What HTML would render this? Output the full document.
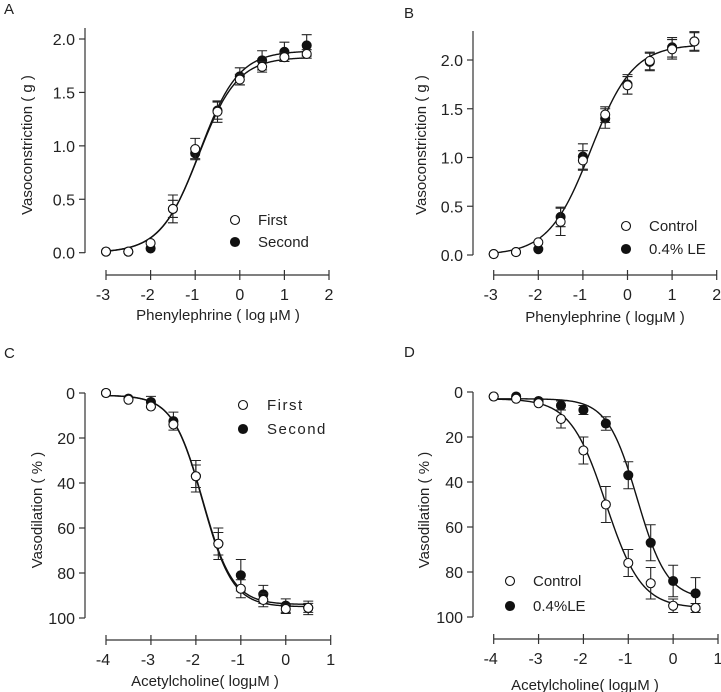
<!DOCTYPE html>
<html><head><meta charset="utf-8"><style>
body{margin:0;background:#fff}
svg{display:block;font-family:"Liberation Sans",Arial,sans-serif}
</style></head><body>
<svg id="fig" width="721" height="692" viewBox="0 0 721 692"></svg>
<script>
// ---- data ----
const xA = [-3,-2.5,-2,-1.5,-1,-0.5,0,0.5,1,1.5];
const aFirst = [0.01,0.01,0.09,0.41,0.97,1.32,1.62,1.74,1.83,1.86];
const aFirstErr = [0,0,0,0.13,0.1,0.1,0.05,0.05,0.04,0.04];
const aSecond = [0.01,0.01,0.04,0.41,0.93,1.33,1.65,1.80,1.88,1.94];
const aSecondErr = [0,0,0,0.08,0.05,0.08,0.08,0.09,0.09,0.1];
const bControl = [0.01,0.03,0.13,0.34,0.97,1.44,1.74,1.99,2.11,2.19];
const bControlErr = [0,0,0,0.14,0.1,0.08,0.09,0.09,0.1,0.1];
const bLE = [0.01,0.03,0.06,0.39,1.01,1.40,1.75,1.98,2.13,2.19];
const bLEErr = [0,0,0,0.1,0.13,0.1,0.1,0.09,0.1,0.09];
const xC = [-4,-3.5,-3,-2.5,-2,-1.5,-1,-0.5,0,0.5];
const cFirst = [0,3,6,14,37,67,87,92,96,95.5];
const cFirstErr = [0,0,0,0,5,5,4,3,2,2];
const cSecond = [0,2.5,4,12.5,37,67,81,89.5,94.5,95.5];
const cSecondErr = [0,0,2.5,4,7,7,7,4,3,3];
const dControl = [2,3,5,12,26,50,76,85,95,96];
const dControlErr = [0,0,0,4,6,8,6,7,3,2];
const dLE = [2,2,4,6,8,14,37,67,84,89.5];
const dLEErr = [0,0,0,2,2,3,6,8,7,7];
const yTicksA = [0,0.5,1,1.5,2];
const yTicksB = [0,0.5,1,1.5,2];
const yTicksCD = [0,20,40,60,80,100];
const xTicksAB = [-3,-2,-1,0,1,2];
const xTicksCD = [-4,-3,-2,-1,0,1];
// curve params [bottom, top, logEC50, hill]
const fitAFirst = [0,1.83,-0.92,1.0];
const fitASecond = [0,1.89,-0.9,1.0];
const fitB = [0,2.16,-0.82,0.92];
const fitCFirst = [1,95,-1.85,1.3];
const fitCSecond = [1,94,-1.85,1.3];
const fitDControl = [3,96,-1.5,1.1];
const fitDLE = [3,92,-0.8,1.3];

const svg = document.getElementById('fig');
const NS = 'http://www.w3.org/2000/svg';
function mk(tag, at, parent){const e=document.createElementNS(NS,tag);for(const k in at)e.setAttribute(k,at[k]);(parent||svg).appendChild(e);return e;}
function hill(p,x){return p[0]+(p[1]-p[0])/(1+Math.pow(10,(p[2]-x)*p[3]));}

function panel(cfg){
  const g = mk('g',{});
  
  
  const sx = v => cfg.x0 + (v - cfg.xmin)*(cfg.x1-cfg.x0)/(cfg.xmax-cfg.xmin);
  const sy = v => cfg.y0 + (v - cfg.ymin)*(cfg.y1-cfg.y0)/(cfg.ymax-cfg.ymin);
  const lt = mk('text',{x:cfg.lx,y:cfg.ly,'font-size':15,fill:'#222'},g); lt.textContent=cfg.letter;
  
  
  const ya = mk('line',{x1:cfg.yax,x2:cfg.yax,y1:cfg.yTop,y2:cfg.yBot,stroke:'#333','stroke-width':1.2},g);
  
  
  cfg.yt.forEach(v=>{
    mk('line',{x1:cfg.yax-6,x2:cfg.yax,y1:sy(v),y2:sy(v),stroke:'#333','stroke-width':1.2},g);
    const t=mk('text',{x:cfg.yax-10,y:sy(v)+6,'font-size':16,'text-anchor':'end',fill:'#222'},g);
    t.textContent=cfg.yfmt(v);
    
    
  });
  const xa = mk('line',{x1:sx(cfg.xt[0]),x2:sx(cfg.xt[cfg.xt.length-1]),y1:cfg.xay,y2:cfg.xay,stroke:'#333','stroke-width':1.2},g);
  
  
  cfg.xt.forEach(v=>{
    mk('line',{x1:sx(v),x2:sx(v),y1:cfg.xay-5,y2:cfg.xay+5,stroke:'#333','stroke-width':1.2},g);
    const t=mk('text',{x:sx(v)-(v<0?3:0),y:cfg.xay+25,'font-size':16,'text-anchor':'middle',fill:'#222'},g);
    t.textContent=String(v);
    
    
  });
  const xl=mk('text',{x:cfg.xlx,y:cfg.xly,'font-size':15,'text-anchor':'middle',fill:'#222'},g);
  xl.textContent=cfg.xlabel;
  
  
  const yl=mk('text',{x:0,y:0,'font-size':15,'text-anchor':'middle',fill:'#222',transform:`translate(${cfg.ylx},${cfg.yly}) rotate(-90)`},g);
  yl.textContent=cfg.ylabel;
  
  
  cfg.fits.forEach(p=>{
    let d='';
    for(let i=0;i<=200;i++){const x=cfg.cx0+(cfg.cx1-cfg.cx0)*i/200;d+=(i?'L':'M')+sx(x).toFixed(2)+','+sy(hill(p,x)).toFixed(2);}
    const c=mk('path',{d:d,fill:'none',stroke:'#111','stroke-width':1.4},g);
    
    
  });
  cfg.series.forEach(s=>{
    s.y.forEach((v,i)=>{
      const e=s.e[i], X=sx(cfg.xs[i]);
      if(e>0){
        const yt=sy(v+ (cfg.inv? -e: e)), yb=sy(v+(cfg.inv? e:-e));
        const eb=mk('path',{d:`M${X},${sy(v)}L${X},${yt}M${X-5},${yt}L${X+5},${yt}M${X},${sy(v)}L${X},${yb}M${X-5},${yb}L${X+5},${yb}`,stroke:'#222','stroke-width':1.1,fill:'none'},g);
        
        
      }
      const m=mk('circle',{cx:X,cy:sy(v),r:4.5,fill:s.open?'#fff':'#111',stroke:'#111','stroke-width':1.1},g);
      
      
    });
  });
  cfg.legend.forEach((l,i)=>{
    const lg=mk('g',{},g);
    
    
    const y=cfg.legY+i*cfg.legDy;
    mk('circle',{cx:cfg.legX,cy:y,r:4.5,fill:l.open?'#fff':'#111',stroke:'#111','stroke-width':1.1},lg);
    const t=mk('text',{x:cfg.legX+cfg.legTx,y:y+5,'font-size':15,fill:'#222','letter-spacing':cfg.ls||0},lg);
    t.textContent=l.t;
  });
}
const f1=v=>v.toFixed(1), f0=v=>String(v);
panel({name:'panel-a',letter:'A',lx:4,ly:14,x0:106,x1:329,xmin:-3,xmax:2,y0:252.7,y1:39,ymin:0,ymax:2,
  yax:85,yTop:28,yBot:253,xay:275,yt:yTicksA,yfmt:f1,xt:xTicksAB,xs:xA,cx0:-3,cx1:1.5,
  xlabel:'Phenylephrine ( log\u00a0\u03bcM )',xlx:218,xly:320,ylabel:'Vasoconstriction ( g )',ylx:32,yly:145,
  fits:[fitAFirst,fitASecond],
  series:[{key:'second',y:aSecond,e:aSecondErr,open:false},{key:'first',y:aFirst,e:aFirstErr,open:true}],
  legend:[{t:'First',open:true},{t:'Second',open:false}],legX:235,legY:220,legDy:22,legTx:23});
panel({name:'panel-b',letter:'B',lx:404,ly:18,x0:493.7,x1:716.7,xmin:-3,xmax:2,y0:255,y1:60,ymin:0,ymax:2,
  yax:473,yTop:31,yBot:255,xay:275,yt:yTicksB,yfmt:f1,xt:xTicksAB,xs:xA,cx0:-3,cx1:1.5,
  xlabel:'Phenylephrine ( log\u03bcM )',xlx:605,xly:322,ylabel:'Vasoconstriction ( g )',ylx:426,yly:145,
  fits:[fitB],
  series:[{key:'le',y:bLE,e:bLEErr,open:false},{key:'control',y:bControl,e:bControlErr,open:true}],
  legend:[{t:'Control',open:true},{t:'0.4% LE',open:false}],legX:626,legY:226,legDy:23,legTx:23});
panel({name:'panel-c',letter:'C',lx:4,ly:358,x0:106,x1:330.7,xmin:-4,xmax:1,y0:393,y1:618,ymin:0,ymax:100,inv:true,
  yax:85,yTop:393,yBot:618,xay:640,yt:yTicksCD,yfmt:f0,xt:xTicksCD,xs:xC,cx0:-4,cx1:0.5,
  xlabel:'Acetylcholine( log\u03bcM )',xlx:205,xly:686,ylabel:'Vasodilation ( % )',ylx:42,yly:510,
  fits:[fitCFirst,fitCSecond],
  series:[{key:'second',y:cSecond,e:cSecondErr,open:false},{key:'first',y:cFirst,e:cFirstErr,open:true}],
  legend:[{t:'First',open:true},{t:'Second',open:false}],legX:243,legY:405,legDy:24,legTx:24,ls:1.5});
panel({name:'panel-d',letter:'D',lx:404,ly:357,x0:493.7,x1:718,xmin:-4,xmax:1,y0:392,y1:617,ymin:0,ymax:100,inv:true,
  yax:473,yTop:392,yBot:617,xay:639,yt:yTicksCD,yfmt:f0,xt:xTicksCD,xs:xC,cx0:-4,cx1:0.5,
  xlabel:'Acetylcholine( log\u03bcM )',xlx:585,xly:690,ylabel:'Vasodilation ( % )',ylx:429,yly:510,
  fits:[fitDControl,fitDLE],
  series:[{key:'le',y:dLE,e:dLEErr,open:false},{key:'control',y:dControl,e:dControlErr,open:true}],
  legend:[{t:'Control',open:true},{t:'0.4%LE',open:false}],legX:510,legY:581,legDy:25,legTx:23});
</script>
</body></html>
